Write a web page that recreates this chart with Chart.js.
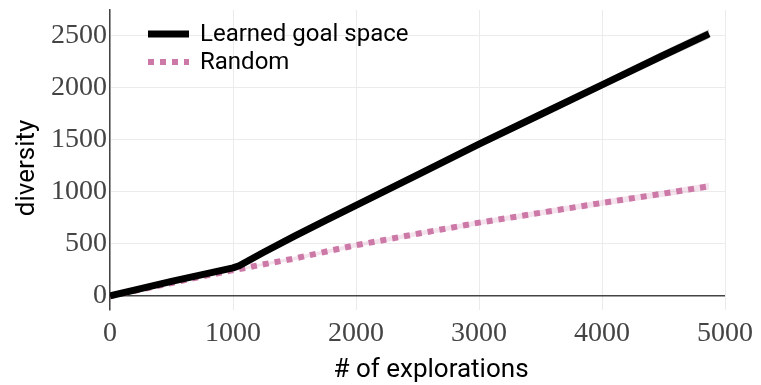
<!DOCTYPE html>
<html>
<head>
<meta charset="utf-8">
<script src="https://cdn.jsdelivr.net/npm/chart.js@4.4.1/dist/chart.umd.min.js"></script>
<style>
  html, body { margin: 0; padding: 0; background: #fff; }
  #wrap { width: 761px; height: 385px; }
</style>
</head>
<body>
<div id="wrap"><canvas id="chart" width="761" height="385"></canvas></div>
<script>
// Number of explorations at which diversity was measured
const explorations = [0, 250, 500, 750, 1000, 1050, 1250, 1500, 1750, 2000, 2500, 3000, 3500, 4000, 4500, 4870];
// Mean diversity for the learned goal space and its spread
const learnedMean   = [0, 70, 140, 205, 270, 290, 420, 575, 725, 872, 1165, 1460, 1745, 2030, 2315, 2520];
const learnedSpread = [0, 5, 8, 10, 12, 12, 14, 16, 18, 20, 24, 28, 32, 36, 40, 44];
// Mean diversity for random exploration and its spread
const randomMean    = [0, 62, 125, 188, 248, 258, 305, 360, 425, 488, 598, 705, 800, 895, 985, 1055];
const randomSpread  = [0, 5, 8, 10, 12, 12, 14, 16, 18, 20, 22, 24, 26, 28, 30, 32];
// Axis ticks and titles
const xTicks = [0, 1000, 2000, 3000, 4000, 5000];
const yTicks = [0, 500, 1000, 1500, 2000, 2500];
const xTitle = '# of explorations';
const yTitle = 'diversity';

const pts = (ys, sgn, spread) => explorations.map((x, i) => ({ x, y: ys[i] + (spread ? sgn * spread[i] : 0) }));

// Earlier datasets are painted on top, so the mean lines come first
const datasets = [
  { label: 'Learned goal space', data: pts(learnedMean), borderColor: '#000', borderWidth: 7, pointRadius: 0, fill: false, tension: 0, borderJoinStyle: 'round' },
  { label: 'Random', data: pts(randomMean), borderColor: '#cc79a7', borderWidth: 6, borderDash: [6, 6], pointRadius: 0, fill: false, tension: 0 },
  { label: '_lhi', data: pts(learnedMean, 1, learnedSpread), borderWidth: 0, pointRadius: 0, fill: false, tension: 0 },
  { label: '_llo', data: pts(learnedMean, -1, learnedSpread), borderWidth: 0, pointRadius: 0, fill: 2, backgroundColor: 'rgba(140,140,140,0.45)', tension: 0 },
  { label: '_rhi', data: pts(randomMean, 1, randomSpread), borderWidth: 0, pointRadius: 0, fill: false, tension: 0 },
  { label: '_rlo', data: pts(randomMean, -1, randomSpread), borderWidth: 0, pointRadius: 0, fill: 4, backgroundColor: 'rgba(204,121,167,0.22)', tension: 0 }
];

// Legend inside the plotting area (top left) and the two axis titles
const overlay = {
  id: 'overlay',
  afterDraw(chart) {
    const ctx = chart.ctx;
    const items = chart.data.datasets.slice(0, 2);
    ctx.save();
    ctx.font = '24px Roboto';
    ctx.textBaseline = 'middle';
    items.forEach((d, i) => {
      const y = 34 + i * 28;
      ctx.strokeStyle = d.borderColor;
      ctx.lineWidth = d.borderWidth;
      ctx.setLineDash(d.borderDash || []);
      ctx.beginPath();
      ctx.moveTo(148, y);
      ctx.lineTo(189, y);
      ctx.stroke();
      ctx.setLineDash([]);
      ctx.fillStyle = '#000';
      ctx.fillText(d.label, 200, y + 1);
    });
    ctx.font = '26px Roboto';
    ctx.textAlign = 'center';
    ctx.fillText(xTitle, 431, 370);
    ctx.translate(27, 168);
    ctx.rotate(-Math.PI / 2);
    ctx.fillText(yTitle, 0, 0);
    ctx.restore();
  }
};

new Chart(document.getElementById('chart'), {
  type: 'line',
  data: { datasets },
  plugins: [overlay],
  options: {
    responsive: false,
    animation: false,
    layout: { padding: { left: 0, right: 36, top: 10, bottom: 0 } },
    plugins: { legend: { display: false }, tooltip: { enabled: false } },
    scales: {
      x: {
        type: 'linear', min: 0, max: 5000,
        afterBuildTicks: s => { s.ticks = xTicks.map(v => ({ value: v })); },
        afterFit: s => { s.height = 75; s.paddingLeft = 0; },
        border: { display: false },
        grid: { color: '#ebebeb', lineWidth: 1, drawTicks: false },
        ticks: { font: { family: 'Liberation Serif', size: 28 }, color: '#444', padding: 7, maxRotation: 0, callback: v => String(v) }
      },
      y: {
        min: -135, max: 2750,
        afterBuildTicks: s => { s.ticks = yTicks.map(v => ({ value: v })); },
        afterFit: s => { s.width = 110; s.paddingTop = 0; s.paddingBottom = 0; },
        border: { display: true, color: '#444', width: 1.5 },
        grid: { color: c => c.tick && c.tick.value === 0 ? '#444' : '#ebebeb', lineWidth: c => c.tick && c.tick.value === 0 ? 1.5 : 1, drawTicks: false },
        ticks: { font: { family: 'Liberation Serif', size: 28 }, color: '#444', padding: 3, callback: v => String(v) }
      }
    }
  }
});
</script>
</body>
</html>
